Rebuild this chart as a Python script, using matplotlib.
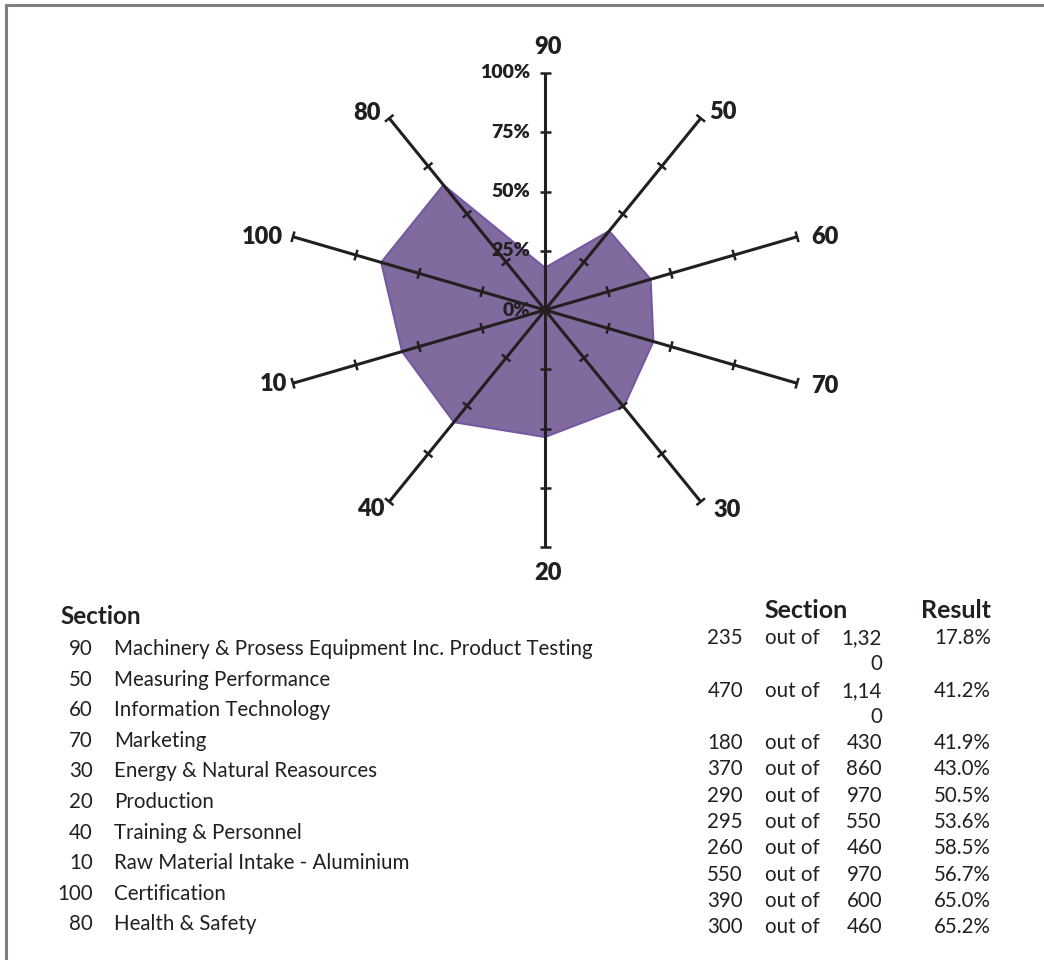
import numpy as np
import matplotlib
matplotlib.use("Agg")
import matplotlib.pyplot as plt
from matplotlib.patches import Polygon
from matplotlib.lines import Line2D

plt.rcParams['font.family'] = ['Lato', 'DejaVu Sans']

# ---- data ----
sections = [90, 50, 60, 70, 30, 20, 40, 10, 100, 80]
section_names = [
    "Machinery & Prosess Equipment Inc. Product Testing",
    "Measuring Performance",
    "Information Technology",
    "Marketing",
    "Energy & Natural Reasources",
    "Production",
    "Training & Personnel",
    "Raw Material Intake - Aluminium",
    "Certification",
    "Health & Safety",
]
scores = [235, 470, 180, 370, 290, 295, 260, 550, 390, 300]
totals = [1320, 1140, 430, 860, 970, 550, 460, 970, 600, 460]
results = [17.8, 41.2, 41.9, 43.0, 50.5, 53.6, 58.5, 56.7, 65.0, 65.2]
ring_ticks = [0, 25, 50, 75, 100]

INK = "#231F20"
W, H = 1044, 960
fig = plt.figure(figsize=(W / 100, H / 100), dpi=100)


def fx(px):
    return px / W


def fy(py):
    return 1 - py / H


# frame lines (left and top)
fig.add_artist(Line2D([fx(6), fx(6)], [0, fy(5)], color="#808080", lw=2.2))
fig.add_artist(Line2D([fx(6), 1], [fy(5), fy(5)], color="#808080", lw=2.2))

# ---- radar axes: elliptical, wider than tall ----
cx, cy = 545, 310
rx, ry = 265, 237
lim = 1.3
ax = fig.add_axes([fx(cx - lim * rx), fy(cy + lim * ry),
                   2 * lim * rx / W, 2 * lim * ry / H])
ax.set_xlim(-lim, lim)
ax.set_ylim(-lim, lim)
ax.axis("off")

n = len(sections)
theta = np.arange(n) * 2 * np.pi / n
sx, sy = np.sin(theta), np.cos(theta)

vals = np.array(results) / 100.0
poly = Polygon(np.column_stack([vals * sx, vals * sy]), closed=True,
               facecolor="#806A9E", edgecolor="#7459A2", lw=1.5, zorder=1)
ax.add_patch(poly)

tick_half = 5.5  # px
for i in range(n):
    ax.plot([0, sx[i]], [0, sy[i]], color=INK, lw=2.2, zorder=3,
            solid_capstyle="butt")
    # perpendicular tick marks in display space
    dxp, dyp = sx[i] * rx, sy[i] * ry
    L = np.hypot(dxp, dyp)
    px_, py_ = -dyp / L, dxp / L
    for t in ring_ticks[1:]:
        r = t / 100
        x0, y0 = r * sx[i], r * sy[i]
        ax.plot([x0 - px_ * tick_half / rx, x0 + px_ * tick_half / rx],
                [y0 - py_ * tick_half / ry, y0 + py_ * tick_half / ry],
                color=INK, lw=1.8, zorder=3, solid_capstyle="butt")

# percentage labels along the top spoke
for t in ring_ticks:
    ax.annotate(f"{t}%", xy=(0, t / 100), xytext=(-15, 0),
                textcoords="offset pixels", ha="right", va="center",
                fontsize=14, fontweight="heavy", color=INK, zorder=4)

# spoke end labels
label_offsets = {
    0: (3, 26, "center"),
    1: (8, 6, "left"),
    2: (14, 0, "left"),
    3: (14, -3, "left"),
    4: (13, -8, "left"),
    5: (3, -26, "center"),
    6: (-5, -7, "right"),
    7: (-6, -1, "right"),
    8: (-10, 0, "right"),
    9: (-8, 5, "right"),
}
for i in range(n):
    ox, oy, ha = label_offsets[i]
    ax.annotate(str(sections[i]), xy=(sx[i], sy[i]), xytext=(ox, oy),
                textcoords="offset pixels", ha=ha, va="center",
                fontsize=17, fontweight="heavy", color=INK)

# ---- left table: section names ----
fs = 14.8
fig.text(fx(60), fy(617), "Section", ha="left", va="center",
         fontsize=17.5, fontweight="bold", color=INK)
row_y = 649
for sec, name in zip(sections, section_names):
    fig.text(fx(93), fy(row_y), str(sec), ha="right", va="center",
             fontsize=fs, color=INK)
    fig.text(fx(114), fy(row_y), name, ha="left", va="center",
             fontsize=fs, color=INK)
    row_y += 30.6

# ---- right table: scores ----
fig.text(fx(806), fy(610), "Section", ha="center", va="center",
         fontsize=18, fontweight="bold", color=INK)
fig.text(fx(991), fy(610), "Result", ha="right", va="center",
         fontsize=18, fontweight="bold", color=INK)
line_y = 638
step = 26.3
for sc, tot, res in zip(scores, totals, results):
    tot_txt = f"{tot:,}"
    fig.text(fx(743), fy(line_y), str(sc), ha="right", va="center",
             fontsize=fs, color=INK)
    fig.text(fx(765), fy(line_y), "out of", ha="left", va="center",
             fontsize=fs, color=INK)
    fig.text(fx(991), fy(line_y), f"{res:.1f}%", ha="right", va="center",
             fontsize=fs, color=INK)
    # narrow column: long totals wrap onto a second line
    parts = [tot_txt[:4], tot_txt[4:]] if len(tot_txt) > 4 else [tot_txt]
    for part in parts:
        fig.text(fx(882), fy(line_y), part, ha="right", va="center",
                 fontsize=fs, color=INK)
        line_y += step

fig.savefig("out.png", dpi=100)
